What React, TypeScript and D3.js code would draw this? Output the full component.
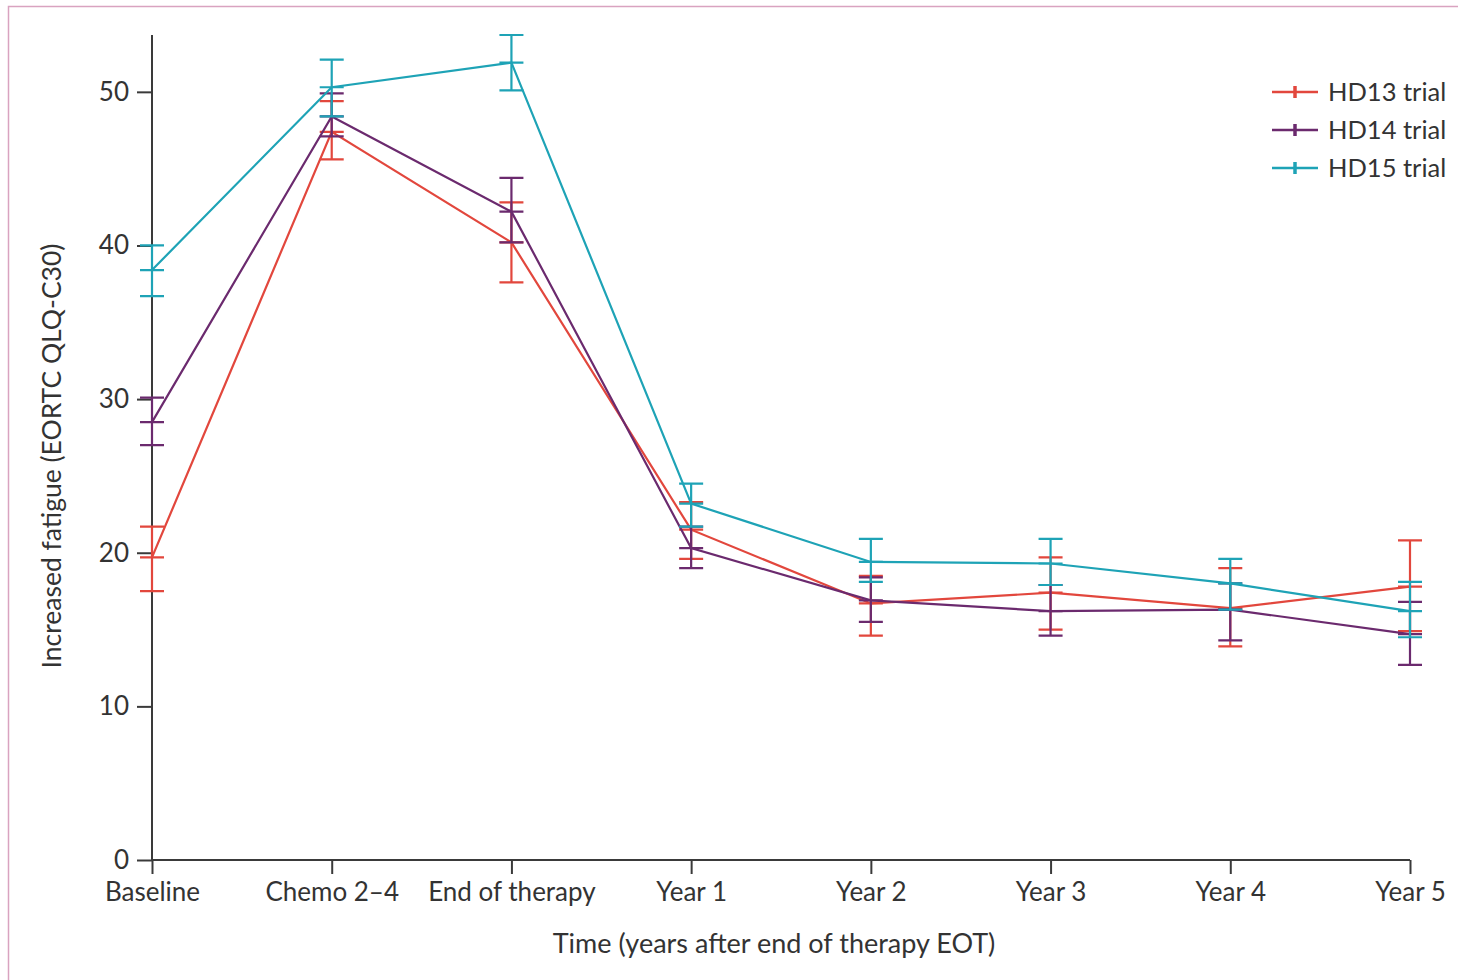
import { useRef, useEffect } from 'react';
import * as d3 from 'd3';

// Time points along the x axis
const timepoints = ['Baseline', 'Chemo 2–4', 'End of therapy', 'Year 1', 'Year 2', 'Year 3', 'Year 4', 'Year 5'];
const yTicks = [0, 10, 20, 30, 40, 50];

// Mean fatigue score with lower / upper CI per trial
const hd13Mean = [19.7, 47.4, 40.2, 21.5, 16.7, 17.4, 16.4, 17.8];
const hd13Low = [17.5, 45.6, 37.6, 19.6, 14.6, 15.0, 13.9, 14.9];
const hd13High = [21.7, 49.4, 42.8, 23.3, 18.5, 19.7, 19.0, 20.8];

const hd14Mean = [28.5, 48.4, 42.2, 20.3, 16.9, 16.2, 16.3, 14.7];
const hd14Low = [27.0, 47.1, 40.2, 19.0, 15.5, 14.6, 14.3, 12.7];
const hd14High = [30.1, 49.9, 44.4, 21.7, 18.4, 17.9, 18.0, 16.8];

const hd15Mean = [38.4, 50.3, 51.9, 23.2, 19.4, 19.3, 18.0, 16.2];
const hd15Low = [36.7, 48.4, 50.1, 21.7, 18.1, 17.9, 16.3, 14.5];
const hd15High = [40.0, 52.1, 53.7, 24.5, 20.9, 20.9, 19.6, 18.1];

const seriesNames = ['HD13 trial', 'HD14 trial', 'HD15 trial'];
const seriesColors = ['#e2473d', '#6b2a6e', '#1ea3b6'];

const FONT = 'Lato, "Open Sans", sans-serif';
const AXIS = '#3a3a3a';

export default function App() {
  const svgRef = useRef<SVGSVGElement>(null);

  useEffect(() => {
    if (!svgRef.current) return;
    const svg = d3.select(svgRef.current);
    svg.selectAll('*').remove();

    const W = 1458;
    const H = 980;
    svg.attr('width', W).attr('height', H);

    // page frame
    svg.append('rect')
      .attr('x', 8.5).attr('y', 6.5)
      .attr('width', 1470).attr('height', 1000)
      .attr('fill', 'none').attr('stroke', '#d9a3c0').attr('stroke-width', 1.5);

    const x = d3.scalePoint<string>().domain(timepoints).range([152, 1410]);
    const y = d3.scaleLinear().domain([0, 53.7]).range([860, 35]);

    const g = svg.append('g');

    // Y axis
    const yAxis = g.append('g')
      .attr('transform', 'translate(152,0)')
      .call(d3.axisLeft(y).tickValues(yTicks).tickSize(15).tickPadding(8).tickFormat(d3.format('d')));
    yAxis.select('.domain').attr('d', `M0,${y(53.7)}V${y(0)}`);
    yAxis.selectAll('.domain, .tick line').attr('stroke', AXIS).attr('stroke-width', 2);
    yAxis.selectAll('text').attr('fill', '#333').attr('font-size', 26).attr('font-family', FONT);

    // X axis
    const xAxis = g.append('g')
      .attr('transform', 'translate(0,860)')
      .call(d3.axisBottom(x).tickSize(14).tickPadding(9));
    xAxis.select('.domain').attr('d', `M${x(timepoints[0])},0H${x(timepoints[timepoints.length - 1])}`);
    xAxis.selectAll('.domain, .tick line').attr('stroke', AXIS).attr('stroke-width', 2);
    xAxis.selectAll('text').attr('fill', '#333').attr('font-size', 26).attr('font-family', FONT);

    // Axis titles
    g.append('text')
      .attr('x', 774).attr('y', 953)
      .attr('text-anchor', 'middle')
      .attr('font-size', 27).attr('font-family', FONT).attr('fill', '#333')
      .text('Time (years after end of therapy EOT)');
    g.append('text')
      .attr('transform', 'translate(61,456) rotate(-90)')
      .attr('text-anchor', 'middle')
      .attr('font-size', 26.5).attr('font-family', FONT).attr('fill', '#333')
      .text('Increased fatigue (EORTC QLQ-C30)');

    const series = [
      { mean: hd13Mean, low: hd13Low, high: hd13High },
      { mean: hd14Mean, low: hd14Low, high: hd14High },
      { mean: hd15Mean, low: hd15Low, high: hd15High },
    ];

    const line = d3.line<number>()
      .x((_d, i) => x(timepoints[i]) ?? 0)
      .y((d) => y(d));

    const cap = 12;
    series.forEach((s, si) => {
      const color = seriesColors[si];
      const sg = g.append('g');
      sg.append('path')
        .datum(s.mean)
        .attr('fill', 'none')
        .attr('stroke', color)
        .attr('stroke-width', 2.2)
        .attr('d', line);

      s.mean.forEach((m, i) => {
        const cx = x(timepoints[i]) ?? 0;
        const path = d3.path();
        path.moveTo(cx, y(s.low[i]));
        path.lineTo(cx, y(s.high[i]));
        path.moveTo(cx - cap, y(s.low[i]));
        path.lineTo(cx + cap, y(s.low[i]));
        path.moveTo(cx - cap, y(s.high[i]));
        path.lineTo(cx + cap, y(s.high[i]));
        path.moveTo(cx - cap, y(m));
        path.lineTo(cx + cap, y(m));
        sg.append('path')
          .attr('d', path.toString())
          .attr('fill', 'none')
          .attr('stroke', color)
          .attr('stroke-width', 2.2);
      });
    });

    // Legend
    const lg = svg.append('g').attr('transform', 'translate(1272,92)');
    seriesNames.forEach((name, i) => {
      const row = lg.append('g').attr('transform', `translate(0,${i * 38})`);
      row.append('line')
        .attr('x1', 0).attr('x2', 46).attr('y1', 0).attr('y2', 0)
        .attr('stroke', seriesColors[i]).attr('stroke-width', 2.5);
      row.append('line')
        .attr('x1', 23).attr('x2', 23).attr('y1', -6).attr('y2', 6)
        .attr('stroke', seriesColors[i]).attr('stroke-width', 3.5);
      row.append('text')
        .attr('x', 56).attr('y', 0).attr('dy', '0.35em')
        .attr('font-size', 25.5).attr('font-family', FONT).attr('fill', '#333')
        .text(name);
    });
  }, []);

  return (
    <div style={{ position: 'absolute', left: 0, top: 0, width: 1458, height: 980, background: '#fff' }}>
      <svg ref={svgRef} style={{ display: 'block' }} />
    </div>
  );
}
